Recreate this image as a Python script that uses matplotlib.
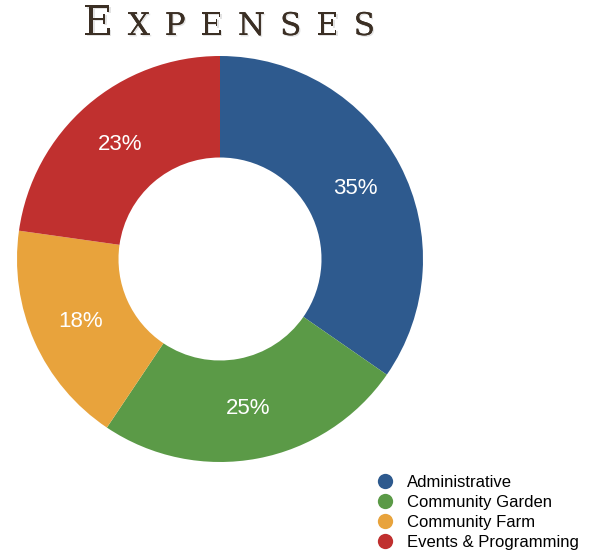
import matplotlib.pyplot as plt
from matplotlib.lines import Line2D
import matplotlib.patheffects as pe

# data
categories = ["Administrative", "Community Garden", "Community Farm", "Events & Programming"]
values = [35, 25, 18, 23]
pct_labels = ["35%", "25%", "18%", "23%"]
colors = ["#2e5a8e", "#5b9a47", "#e8a33c", "#c0302f"]

W, H = 593, 550
fig = plt.figure(figsize=(W / 100, H / 100), dpi=100)
sans = "Liberation Sans"

# donut axes: centre (220, 259) px, radius 203 px
cx, cy, r = 220, 259, 203
ax = fig.add_axes([(cx - r) / W, (H - cy - r) / H, 2 * r / W, 2 * r / H])
wedges, texts, autotexts = ax.pie(
    values,
    colors=colors,
    startangle=90,
    counterclock=False,
    radius=1,
    autopct="%d%%",
    pctdistance=0.75,
    wedgeprops=dict(width=0.5, edgecolor="none"),
    textprops=dict(color="white", fontsize=16, family=sans),
)
for t, s in zip(autotexts, pct_labels):
    t.set_text(s)
ax.set_xlim(-1, 1)
ax.set_ylim(-1, 1)
ax.set_aspect("equal")

# title, small caps spread between x=83 and x=375
shadow = [pe.withSimplePatchShadow(offset=(1, -1), shadow_rgbFace="#bbbbbb", alpha=0.4), pe.Normal()]
title_color = "#3b2f24"
letters = "EXPENSES"
sizes = [29.5] + [22.5] * 7
base_y = 1 - 35 / H
objs = [fig.text(0, base_y, ch, fontsize=s, family="DejaVu Serif", color=title_color,
                 va="baseline", ha="left", path_effects=shadow)
        for ch, s in zip(letters, sizes)]
fig.canvas.draw()
rend = fig.canvas.get_renderer()
widths = [o.get_window_extent(rend).width for o in objs]
x0, x1 = 83, 375
gap = (x1 - x0 - sum(widths)) / (len(letters) - 1)
x = x0
for o, w in zip(objs, widths):
    o.set_x(x / W)
    x += w + gap

# legend
handles = [Line2D([], [], marker="o", linestyle="none", markersize=11,
                  markerfacecolor=c, markeredgecolor="none") for c in colors]
fig.legend(handles, categories, loc="upper left", bbox_to_anchor=(368 / W, 1 - 468 / H),
           frameon=False, prop=dict(family=sans, size=12), handletextpad=0.75,
           labelspacing=0.3, borderaxespad=0, handlelength=1.2)

fig.savefig("out.png", dpi=100)
